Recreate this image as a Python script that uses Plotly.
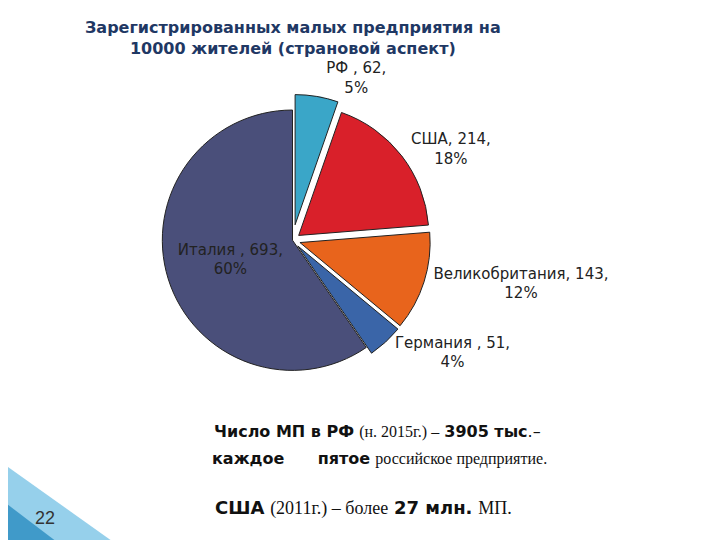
import plotly.graph_objects as go

labels = ["РФ ", "США", "Великобритания", "Германия ", "Италия "]
values = [62, 214, 143, 51, 693]
colors = ["#3aa6c8", "#d9202a", "#e8641c", "#3a65a8", "#4a4f7a"]
pulls = [0.12, 0.06, 0.06, 0.06, 0.0]
positions = ["outside", "outside", "outside", "outside", "inside"]

fig = go.Figure(go.Pie(
    labels=labels, values=values, sort=False, direction="clockwise", rotation=0,
    marker=dict(colors=colors, line=dict(color="#222", width=1)),
    pull=pulls, textposition=positions,
    texttemplate="%{label}, %{value},<br>%{percent:.0%}",
    textfont=dict(family="DejaVu Sans", size=15, color="#222"),
    insidetextorientation="horizontal",
    domain=dict(x=[0.17, 0.83], y=[0.3, 0.84]),
    showlegend=False,
))

fig.add_shape(type="path", xref="paper", yref="paper",
              path="M 0 0 L 0 0.15 L 0.2 0 Z", fillcolor="#7cc4e6", line=dict(width=0), opacity=0.8)
fig.add_shape(type="path", xref="paper", yref="paper",
              path="M 0 0 L 0 0.08 L 0.1 0 Z", fillcolor="#2a8cc0", line=dict(width=0), opacity=0.8)

S = "<span style='font-family:Liberation Serif;font-size:16px'>"
ann = [
    dict(x=0.5, y=0.985, yanchor="top", xanchor="center",
         text="<b>Зарегистрированных малых предприятия на<br>10000 жителей (страновой аспект)</b>",
         font=dict(family="DejaVu Sans", size=16, color="#1f3864")),
    dict(x=0.94, y=0.215, xanchor="right",
         text="<b>Число МП в РФ</b> " + S + "(н. 2015г.) –</span> <b>3905 тыс</b>.–",
         font=dict(family="DejaVu Sans", size=16, color="#111")),
    dict(x=0.95, y=0.165, xanchor="right",
         text="<b>каждое      пятое</b> " + S + "российское предприятие.</span>",
         font=dict(family="DejaVu Sans", size=16, color="#111")),
    dict(x=0.89, y=0.075, xanchor="right",
         text="<b>США</b> <span style='font-family:Liberation Serif;font-size:18px'>(2011г.) – более</span> <b>27 млн.</b> <span style='font-family:Liberation Serif;font-size:18px'>МП.</span>",
         font=dict(family="DejaVu Sans", size=18, color="#111")),
    dict(x=0.065, y=0.055, xanchor="center", text="22", font=dict(family="Liberation Sans", size=18, color="#333")),
]
for a in ann:
    a.setdefault("yanchor", "middle")
    a.update(xref="paper", yref="paper", showarrow=False)
    fig.add_annotation(**a)

fig.update_layout(width=720, height=540, margin=dict(l=0, r=0, t=0, b=0),
                  paper_bgcolor="white", plot_bgcolor="white")
fig.write_html("out.html")
